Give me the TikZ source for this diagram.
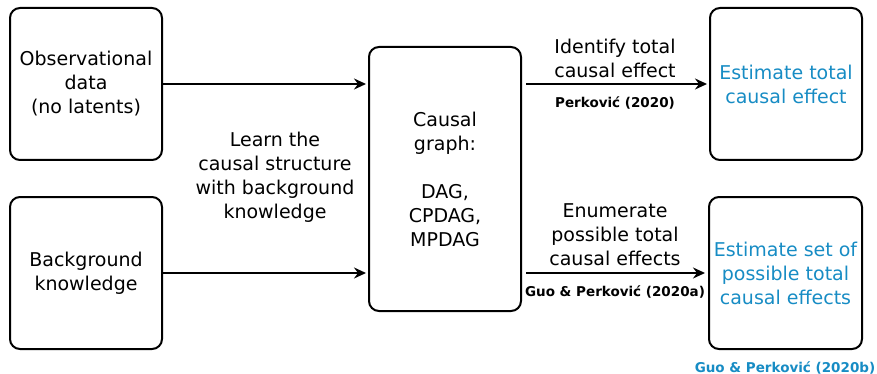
\documentclass[tikz,border=0pt]{standalone}
\usepackage{fontspec}
\setmainfont{DejaVu Sans}
\usetikzlibrary{arrows.meta}
\definecolor{estblue}{RGB}{23,140,196}
\tikzset{
  box/.style={draw=black, line width=2pt, rounded corners=10pt, inner sep=0pt,
              align=center, font=\fontsize{19}{24}\selectfont},
  lbl/.style={align=center, inner sep=0pt, font=\fontsize{19}{24}\selectfont},
  cite/.style={inner sep=0pt, font=\fontsize{13.5}{16}\selectfont\bfseries},
  flow/.style={line width=2pt, -{Stealth[length=12pt,width=11pt,inset=4pt]}}
}
\begin{document}
\begin{tikzpicture}[x=1pt, y=-1pt]
  \useasboundingbox (0,0) rectangle (877,374);
  % input boxes
  \node[box, minimum width=152pt, minimum height=152pt] (obs) at (86,84)
    {Observational\\data\\(no latents)};
  \node[box, minimum width=152pt, minimum height=152pt] (bg) at (86,273)
    {Background\\knowledge};
  % central graph box
  \node[box, minimum width=152pt, minimum height=264pt] (cg) at (445,179)
    {Causal\\graph:\\[24pt]DAG,\\CPDAG,\\MPDAG};
  % output boxes
  \node[box, text=estblue, minimum width=152pt, minimum height=152pt] (est1) at (786,84)
    {Estimate total\\causal effect};
  \node[box, text=estblue, minimum width=153pt, minimum height=152pt] (est2) at (785.5,273)
    {Estimate set of\\possible total\\causal effects};
  % edge labels
  \node[lbl] (learn) at (275,177)
    {Learn the\\causal structure\\with background\\knowledge};
  \node[lbl] (ident) at (615,58) {Identify total\\causal effect};
  \node[cite] (c1) at (615,103) {Perković (2020)};
  \node[lbl] (enum) at (615,235) {Enumerate\\possible total\\causal effects};
  \node[cite] (c2) at (615,292) {Guo \& Perković (2020a)};
  \node[cite, text=estblue] (c3) at (785,368) {Guo \& Perković (2020b)};
  % connectors
  \draw[flow, shorten >=2pt] (obs.east) -- (obs.east -| cg.west);
  \draw[flow, shorten >=2pt] (bg.east) -- (bg.east -| cg.west);
  \draw[flow, shorten <=4pt, shorten >=2pt] (cg.east |- est1.west) -- (est1.west);
  \draw[flow, shorten <=4pt, shorten >=3pt] (cg.east |- est2.west) -- (est2.west);
\end{tikzpicture}
\end{document}
